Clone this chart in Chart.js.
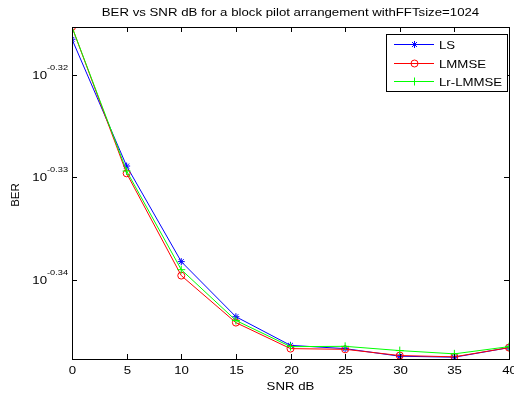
<!DOCTYPE html>
<html>
<head>
<meta charset="utf-8">
<script src="https://cdn.jsdelivr.net/npm/chart.js@4.4.0/dist/chart.umd.min.js"></script>
<style>
  html, body { margin: 0; padding: 0; background: #fff; }
  #wrap { width: 514px; height: 395px; }
</style>
</head>
<body>
<div id="wrap"><canvas id="berChart" width="514" height="395"></canvas></div>
<script>
// data
const snrDb = [0, 5, 10, 15, 20, 25, 30, 35, 40];
const berLS = [0.48247, 0.46891, 0.45894, 0.45329, 0.45038, 0.45005, 0.44928, 0.44918, 0.45015];
const berLMMSE = [0.48380, 0.46814, 0.45750, 0.45269, 0.45005, 0.44998, 0.44935, 0.44922, 0.45015];
const berLrLMMSE = [0.48380, 0.46838, 0.45811, 0.45291, 0.45025, 0.45028, 0.44985, 0.44952, 0.45025];

const xTicks = [0, 5, 10, 15, 20, 25, 30, 35, 40];
const yTickExps = ["-0.32", "-0.33", "-0.34"];
const seriesNames = ["LS", "LMMSE", "Lr-LMMSE"];
const titleText = "BER vs SNR dB for a block pilot arrangement withFFTsize=1024";

const FONT = "Liberation Sans, Arial, Helvetica, sans-serif";
const STRETCH = 1.15; // the original figure text is a bit wide

// draw text stretched horizontally like the source image
function wideText(ctx, text, x, y, size, align) {
  ctx.save();
  ctx.font = size + "px " + FONT;
  ctx.textAlign = align;
  ctx.textBaseline = "alphabetic";
  ctx.translate(x, y);
  ctx.scale(STRETCH, 1);
  ctx.fillText(text, 0, 0);
  ctx.restore();
}

function toPoints(ys) {
  return snrDb.map((x, i) => ({ x: x, y: ys[i] }));
}

// MATLAB style frame, inward ticks, labels and legend
const matlabAxes = {
  id: "matlabAxes",
  afterDraw(chart) {
    const ctx = chart.ctx;
    const a = chart.chartArea;
    const xs = chart.scales.x;
    const ys = chart.scales.y;
    ctx.save();
    ctx.strokeStyle = "#000";
    ctx.fillStyle = "#000";
    ctx.lineWidth = 1;
    ctx.strokeRect(a.left + 0.5, a.top + 0.5, a.right - a.left, a.bottom - a.top);

    xTicks.forEach((t) => {
      const px = Math.round(xs.getPixelForValue(t)) + 0.5;
      ctx.beginPath();
      ctx.moveTo(px, a.bottom);
      ctx.lineTo(px, a.bottom - 5);
      ctx.moveTo(px, a.top);
      ctx.lineTo(px, a.top + 5);
      ctx.stroke();
      wideText(ctx, String(t), px, a.bottom + 15, 11.5, "center");
    });

    yTickExps.forEach((e) => {
      const py = Math.round(ys.getPixelForValue(Math.pow(10, parseFloat(e)))) + 0.5;
      ctx.beginPath();
      ctx.moveTo(a.left, py);
      ctx.lineTo(a.left + 5, py);
      ctx.moveTo(a.right, py);
      ctx.lineTo(a.right - 5, py);
      ctx.stroke();
      ctx.font = "8px " + FONT;
      const supW = ctx.measureText(e).width * STRETCH;
      wideText(ctx, e, a.left - 4, py - 6, 8, "right");
      wideText(ctx, "10", a.left - 4 - supW, py + 3.5, 11.5, "right");
    });

    // title and axis labels
    const cx = (a.left + a.right) / 2;
    wideText(ctx, titleText, cx, 16, 11.5, "center");
    wideText(ctx, "SNR dB", cx, 390, 11.5, "center");
    ctx.save();
    ctx.translate(19, (a.top + a.bottom) / 2 + 2);
    ctx.rotate(-Math.PI / 2);
    ctx.font = "11.5px " + FONT;
    ctx.textAlign = "center";
    ctx.textBaseline = "alphabetic";
    ctx.fillText("BER", 0, 0);
    ctx.restore();

    // legend
    const lx = 386, ly = 34, lw = 121, lh = 57;
    ctx.fillStyle = "#fff";
    ctx.fillRect(lx, ly, lw, lh);
    ctx.strokeStyle = "#000";
    ctx.strokeRect(lx + 0.5, ly + 0.5, lw, lh);
    const rows = [44, 62.5, 80.5];
    chart.data.datasets.forEach((ds, i) => {
      const y = Math.round(rows[i]) + 0.5;
      ctx.strokeStyle = ds.borderColor;
      ctx.lineWidth = 1;
      ctx.beginPath();
      ctx.moveTo(394, y);
      ctx.lineTo(434, y);
      ctx.stroke();
      ctx.fillStyle = "rgba(0,0,0,0)";
      Chart.helpers.drawPoint(ctx, {
        pointStyle: ds.pointStyle,
        radius: ds.pointRadius,
        borderWidth: 1,
      }, 414.5, y);
      ctx.fillStyle = "#000";
      wideText(ctx, seriesNames[i], 439, y + 4.5, 11.5, "left");
    });
    ctx.restore();
  },
};

// later series sit on top, as in the MATLAB plot
function makeSet(label, ys, color, style, r, order) {
  return {
    label: label,
    data: toPoints(ys),
    borderColor: color,
    backgroundColor: "rgba(0,0,0,0)",
    borderWidth: 1,
    pointStyle: style,
    pointRadius: r,
    pointBorderWidth: 1,
    pointBorderColor: color,
    pointBackgroundColor: "rgba(0,0,0,0)",
    tension: 0,
    order: order,
  };
}

const ctx = document.getElementById("berChart").getContext("2d");
new Chart(ctx, {
  type: "line",
  data: {
    datasets: [
      makeSet(seriesNames[0], berLS, "#0000ff", "star", 3.5, 3),
      makeSet(seriesNames[1], berLMMSE, "#ff0000", "circle", 3.5, 2),
      makeSet(seriesNames[2], berLrLMMSE, "#00ff00", "cross", 4, 1),
    ],
  },
  options: {
    responsive: false,
    animation: false,
    layout: { padding: { top: 27, right: 1, left: 0, bottom: 0 } },
    plugins: {
      legend: { display: false },
      tooltip: { enabled: false },
      title: { display: false },
    },
    scales: {
      x: {
        type: "linear",
        min: 0,
        max: 40,
        grid: { display: false },
        border: { display: false },
        ticks: { display: false },
        afterFit(scale) { scale.height = 36; },
      },
      y: {
        type: "logarithmic",
        min: 0.4491,
        max: 0.4838,
        grid: { display: false },
        border: { display: false },
        ticks: { display: false },
        afterFit(scale) { scale.width = 72; },
      },
    },
  },
  plugins: [matlabAxes],
});
</script>
</body>
</html>
